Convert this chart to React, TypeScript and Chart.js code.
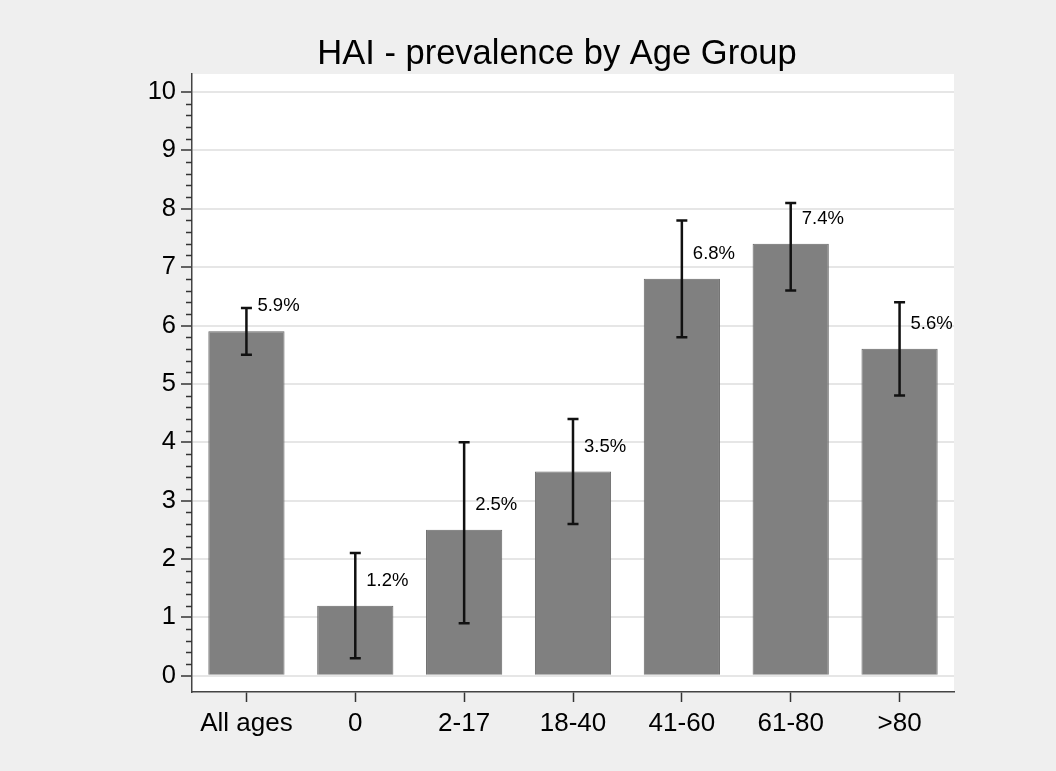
import React, { useEffect, useRef } from "react";
import { Chart, registerables } from "chart.js";

Chart.register(...registerables);

const categories = ["All ages", "0", "2-17", "18-40", "41-60", "61-80", ">80"];
const prevalence = [5.9, 1.2, 2.5, 3.5, 6.8, 7.4, 5.6];
const ciLow = [5.5, 0.3, 0.9, 2.6, 5.8, 6.6, 4.8];
const ciHigh = [6.3, 2.1, 4.0, 4.4, 7.8, 8.1, 6.4];
const yTicks = [0, 1, 2, 3, 4, 5, 6, 7, 8, 9, 10];
const titleText = "HAI - prevalence by Age Group";

const FONT = "'Liberation Sans', Arial, sans-serif";

export default function App() {
  const ref = useRef<HTMLCanvasElement | null>(null);

  useEffect(() => {
    const canvas = ref.current;
    if (!canvas) return;

    const bgPlugin = {
      id: "bgPlugin",
      beforeDraw(chart: any) {
        const { ctx, chartArea } = chart;
        ctx.save();
        ctx.fillStyle = "#efefef";
        ctx.fillRect(0, 0, chart.width, chart.height);
        ctx.fillStyle = "#ffffff";
        ctx.fillRect(chartArea.left, chartArea.top, chartArea.right - chartArea.left, chartArea.bottom - chartArea.top);
        ctx.restore();
      },
      afterDraw(chart: any) {
        const { ctx } = chart;
        ctx.save();
        ctx.fillStyle = "#000";
        ctx.font = `34.5px ${FONT}`;
        ctx.textAlign = "center";
        ctx.textBaseline = "alphabetic";
        ctx.fillText(titleText, 557, 63.5);
        ctx.restore();
      },
    };

    const minorTicks = {
      id: "minorTicks",
      afterDraw(chart: any) {
        const { ctx } = chart;
        const y = chart.scales.y;
        const x0 = chart.chartArea.left;
        ctx.save();
        ctx.strokeStyle = "#333";
        ctx.lineWidth = 1.5;
        for (let i = 0; i < yTicks.length - 1; i++) {
          for (let k = 1; k < 5; k++) {
            const v = yTicks[i] + (k * (yTicks[i + 1] - yTicks[i])) / 5;
            const py = Math.round(y.getPixelForValue(v)) + 0.5;
            ctx.beginPath();
            ctx.moveTo(x0 - 6, py);
            ctx.lineTo(x0, py);
            ctx.stroke();
          }
        }
        ctx.restore();
      },
    };

    const errorBars = {
      id: "errorBars",
      afterDatasetsDraw(chart: any) {
        const { ctx } = chart;
        const y = chart.scales.y;
        const meta = chart.getDatasetMeta(0);
        ctx.save();
        ctx.strokeStyle = "#111";
        ctx.lineWidth = 2.5;
        meta.data.forEach((bar: any, i: number) => {
          const cx = bar.x;
          const yl = y.getPixelForValue(ciLow[i]);
          const yh = y.getPixelForValue(ciHigh[i]);
          ctx.beginPath();
          ctx.moveTo(cx, yl);
          ctx.lineTo(cx, yh);
          ctx.moveTo(cx - 5.5, yl);
          ctx.lineTo(cx + 5.5, yl);
          ctx.moveTo(cx - 5.5, yh);
          ctx.lineTo(cx + 5.5, yh);
          ctx.stroke();
        });
        ctx.fillStyle = "#000";
        ctx.font = `18.5px ${FONT}`;
        ctx.textAlign = "left";
        ctx.textBaseline = "middle";
        meta.data.forEach((bar: any, i: number) => {
          const py = y.getPixelForValue(prevalence[i]) - 25;
          ctx.fillText(prevalence[i].toFixed(1) + "%", bar.x + 11, py);
        });
        ctx.restore();
      },
    };

    const chart = new Chart(canvas, {
      type: "bar",
      data: {
        labels: categories,
        datasets: [
          {
            data: prevalence,
            backgroundColor: "#808080",
            borderColor: "#686868",
            borderWidth: 1,
            barPercentage: 0.7,
            categoryPercentage: 1,
          },
        ],
      },
      options: {
        animation: false,
        responsive: true,
        maintainAspectRatio: false,
        layout: { padding: { top: 74, right: 102, bottom: 0, left: 0 } },
        plugins: {
          legend: { display: false },
          tooltip: { enabled: false },
          title: { display: false },
        },
        scales: {
          x: {
            offset: true,
            afterFit(scale: any) {
              scale.height = 79;
            },
            grid: {
              display: true,
              drawOnChartArea: false,
              drawTicks: true,
              tickLength: 10,
              tickColor: "#333",
              tickWidth: 1.5,
              offset: false,
            },
            border: { display: true, color: "#444", width: 1.5 },
            ticks: {
              color: "#000",
              font: { family: FONT, size: 26 },
              padding: 6,
              maxRotation: 0,
              autoSkip: false,
            },
          },
          y: {
            min: -0.28,
            max: 10.31,
            afterBuildTicks(scale: any) {
              scale.ticks = yTicks.map((v) => ({ value: v }));
            },
            afterFit(scale: any) {
              scale.width = 192;
            },
            grid: {
              color: "#e6e6e6",
              lineWidth: 2,
              drawTicks: true,
              tickLength: 11,
              tickColor: "#333",
              tickWidth: 1.5,
            },
            border: { display: true, color: "#444", width: 1.5 },
            ticks: {
              color: "#000",
              font: { family: FONT, size: 25.5 },
              padding: 5,
              callback: (v: any) => String(v),
            },
          },
        },
      },
      plugins: [bgPlugin, minorTicks, errorBars],
    });

    return () => chart.destroy();
  }, []);

  return (
    <div
      style={{
        position: "fixed",
        left: 0,
        top: 0,
        width: 1056,
        height: 771,
        background: "#efefef",
      }}
    >
      <canvas ref={ref} />
    </div>
  );
}
